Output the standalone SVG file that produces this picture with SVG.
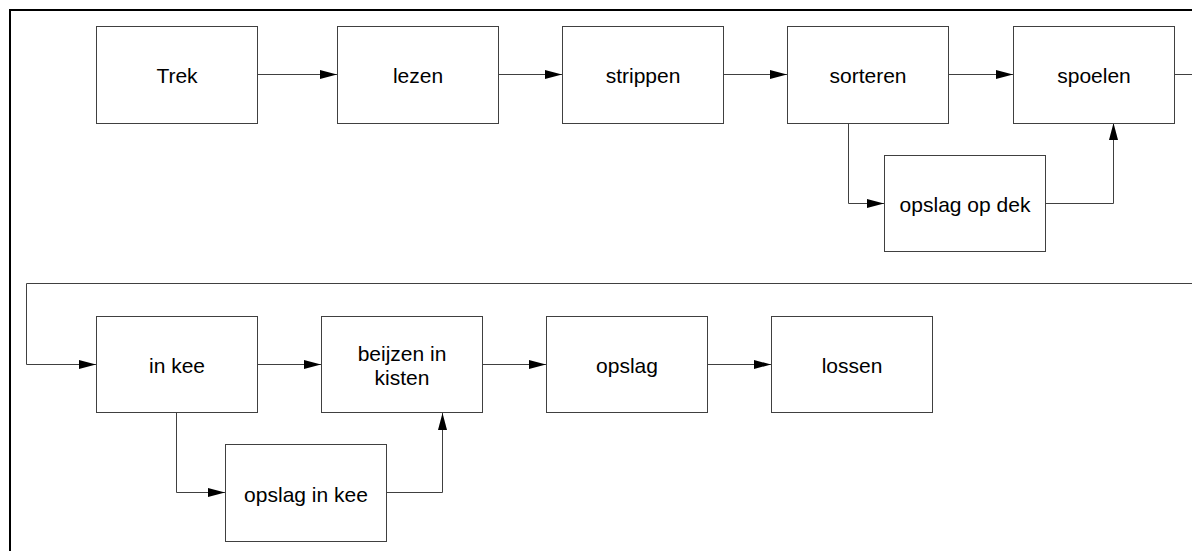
<svg xmlns="http://www.w3.org/2000/svg" width="1192" height="551" viewBox="0 0 1192 551">
  <style>
    .box { fill: #ffffff; stroke: #404040; stroke-width: 1; }
    .lbl { font-family: "Liberation Sans", Arial, sans-serif; font-size: 21px; fill: #000000; text-anchor: middle; }
    .conn { fill: none; stroke: #404040; stroke-width: 1; }
    .frame { fill: none; stroke: #000000; stroke-width: 2; }
  </style>
  <defs>
    <marker id="arrow" markerUnits="userSpaceOnUse" markerWidth="17" markerHeight="9" refX="17" refY="4.5" orient="auto">
      <path d="M0,0 L17,4.5 L0,9 Z" fill="#000000"/>
    </marker>
  </defs>

  <rect width="1192" height="551" fill="#ffffff"/>

  <!-- page frame -->
  <path class="frame" d="M10,551 V10 H1192"/>

  <!-- connectors -->
  <g id="connectors">
    <path class="conn" d="M257,74.5 H337" marker-end="url(#arrow)"/>
    <path class="conn" d="M498,74.5 H562" marker-end="url(#arrow)"/>
    <path class="conn" d="M723,74.5 H787" marker-end="url(#arrow)"/>
    <path class="conn" d="M948,74.5 H1013" marker-end="url(#arrow)"/>
    <path class="conn" d="M848.5,123 V203.5 H884" marker-end="url(#arrow)"/>
    <path class="conn" d="M1045,203.5 H1113.5 V123" marker-end="url(#arrow)"/>
    <path class="conn" d="M1174,74.5 H1230 V283.5 H26.5 V364.5 H96" marker-end="url(#arrow)"/>
    <path class="conn" d="M257,364.5 H321" marker-end="url(#arrow)"/>
    <path class="conn" d="M482,364.5 H546" marker-end="url(#arrow)"/>
    <path class="conn" d="M707,364.5 H771" marker-end="url(#arrow)"/>
    <path class="conn" d="M176.5,413 V492.5 H225" marker-end="url(#arrow)"/>
    <path class="conn" d="M386,492.5 H442.5 V413" marker-end="url(#arrow)"/>
  </g>

  <!-- top row -->
  <g id="trek">
    <rect class="box" x="96.5" y="26.5" width="161" height="97"/>
    <text class="lbl" x="177" y="82.5">Trek</text>
  </g>
  <g id="lezen">
    <rect class="box" x="337.5" y="26.5" width="161" height="97"/>
    <text class="lbl" x="418" y="82.5">lezen</text>
  </g>
  <g id="strippen">
    <rect class="box" x="562.5" y="26.5" width="161" height="97"/>
    <text class="lbl" x="643" y="82.5">strippen</text>
  </g>
  <g id="sorteren">
    <rect class="box" x="787.5" y="26.5" width="161" height="97"/>
    <text class="lbl" x="868" y="82.5">sorteren</text>
  </g>
  <g id="spoelen">
    <rect class="box" x="1013.5" y="26.5" width="161" height="97"/>
    <text class="lbl" x="1094" y="82.5">spoelen</text>
  </g>
  <g id="opslag-op-dek">
    <rect class="box" x="884.5" y="155.5" width="161" height="96"/>
    <text class="lbl" x="965" y="211.5">opslag op dek</text>
  </g>

  <!-- bottom row -->
  <g id="in-kee">
    <rect class="box" x="96.5" y="316.5" width="161" height="96"/>
    <text class="lbl" x="177" y="372.5">in kee</text>
  </g>
  <g id="beijzen-in-kisten">
    <rect class="box" x="321.5" y="316.5" width="161" height="96"/>
    <text class="lbl" x="402" y="360.5">beijzen in</text>
    <text class="lbl" x="402" y="384.5">kisten</text>
  </g>
  <g id="opslag">
    <rect class="box" x="546.5" y="316.5" width="161" height="96"/>
    <text class="lbl" x="627" y="372.5">opslag</text>
  </g>
  <g id="lossen">
    <rect class="box" x="771.5" y="316.5" width="161" height="96"/>
    <text class="lbl" x="852" y="372.5">lossen</text>
  </g>
  <g id="opslag-in-kee">
    <rect class="box" x="225.5" y="444.5" width="161" height="97"/>
    <text class="lbl" x="306" y="501.5">opslag in kee</text>
  </g>
</svg>
